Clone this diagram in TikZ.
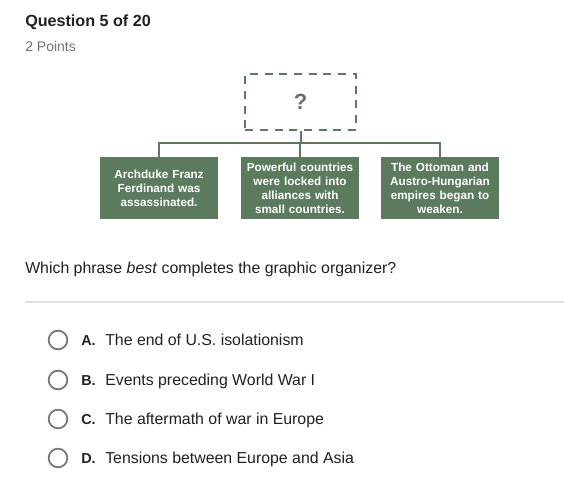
\documentclass[tikz,border=0pt]{standalone}
\usepackage{fontspec}
\setmainfont{Liberation Sans}
\usepackage{xcolor}
\usetikzlibrary{calc}

\definecolor{boxgreen}{HTML}{5B7A5E}
\definecolor{qmark}{HTML}{6B6B6B}
\definecolor{headtext}{HTML}{212121}
\definecolor{subtext}{HTML}{757575}
\definecolor{rulegray}{HTML}{E0E0E0}
\definecolor{radiogray}{HTML}{757575}

\tikzset{
	causebox/.style = {fill=boxgreen, text=white, font=\fontsize{8.8}{10.5}\selectfont\bfseries,
		align=center, text width=86pt, minimum width=88.5pt, minimum height=46.5pt, inner sep=0pt},
	blankbox/.style = {draw=boxgreen, line width=1.5pt, dash pattern=on 6pt off 5pt,
		minimum width=83pt, minimum height=41.5pt, inner sep=0pt},
	linker/.style = {draw=boxgreen, line width=1.5pt},
	radio/.style = {circle, draw=radiogray, line width=1.3pt, minimum size=14pt, inner sep=0pt},
	choice/.style = {anchor=base west, text=headtext, font=\fontsize{11.9}{13}\selectfont, inner sep=0pt}
}

\begin{document}
\begin{tikzpicture}[x=0.75pt, y=-0.75pt]
		\useasboundingbox[fill=white] (0,0) rectangle (564,484);
		
		% heading
		\node [anchor=base west, inner sep=0pt, text=headtext, font=\fontsize{12.1}{14}\selectfont\bfseries] (title) at (25,27) {Question 5 of 20};
		\node [anchor=base west, inner sep=0pt, text=subtext, font=\fontsize{10.5}{12}\selectfont] (points) at (25,52) {2 Points};
		
		% organizer
		\node [blankbox, text=qmark, font=\fontsize{16.5}{18}\selectfont\bfseries] (blank) at (300.5,102) {?};
		\node [causebox] (cause1) at (159,188) {Archduke Franz\\ Ferdinand was\\ assassinated.};
		\node [causebox] (cause2) at (300,188) {Powerful countries\\ were locked into\\ alliances with\\ small countries.};
		\node [causebox] (cause3) at (440,188) {The Ottoman and\\ Austro-Hungarian\\ empires began to\\ weaken.};
		
		\coordinate (join) at (300.5,143);
		\draw [linker] (blank.south) -- (join);
		\draw [linker] (cause1.north) |- (join) -| (cause3.north);
		\draw [linker] (cause2.north) -- (cause2.north |- join);
		
		% question
		\node [choice] (prompt) at (25,274) {Which phrase \emph{best} completes the graphic organizer?};
		\draw [rulegray, line width=0.8pt] (25,302) -- (564,302);
		
		% answers
		\foreach \y/\letter/\answer [count=\i] in {340/A/The end of U.S. isolationism,
				380/B/Events preceding World War I,
				419/C/The aftermath of war in Europe,
				458/D/Tensions between Europe and Asia} {
			\node [radio] (radio\i) at (58,\y) {};
			\node [choice, font=\fontsize{10.8}{13}\selectfont\bfseries] (letter\i) at (81,{\y+5.5}) {\letter.};
			\node [choice] (answer\i) at (105,{\y+5.5}) {\answer};
		}
	\end{tikzpicture}
\end{document}
